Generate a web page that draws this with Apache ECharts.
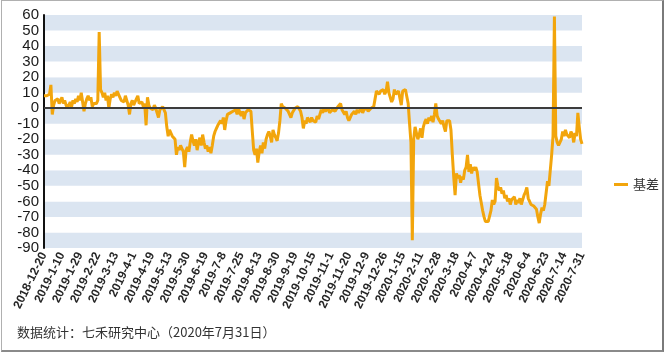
<!DOCTYPE html>
<html>
<head>
<meta charset="utf-8">
<title>基差</title>
<script src="https://cdn.jsdelivr.net/npm/echarts@6/dist/echarts.min.js"></script>
<style>
  html, body { margin: 0; padding: 0; background: #fff; }
  #box {
    position: absolute; left: 1px; top: 0; width: 660px; height: 349px;
    border: 1px solid #b0b0b0; border-right: 2px solid #7a7a7a; border-bottom: 2px solid #8a8a8a;
  }
  #chart { position: absolute; left: 0; top: 0; width: 666px; height: 354px; }
</style>
</head>
<body>
<div id="box"></div>
<div id="chart"></div>
<script>
// trading days 2018-12-20 .. 2020-7-31, weekdays minus exchange holidays
var startDay = '2018-12-20';
var endDay = '2020-07-31';
var holidays = [
  '2018-12-31', '2019-01-01', '2019-02-04', '2019-02-05', '2019-02-06', '2019-02-07', '2019-02-08',
  '2019-04-05', '2019-05-01', '2019-05-02', '2019-05-03', '2019-06-07', '2019-09-13',
  '2019-10-01', '2019-10-02', '2019-10-03', '2019-10-04', '2019-10-07',
  '2020-01-01', '2020-01-24', '2020-01-27', '2020-01-28', '2020-01-29', '2020-01-30', '2020-01-31',
  '2020-04-06', '2020-05-01', '2020-05-04', '2020-05-05', '2020-06-25', '2020-06-26'
];

// 基差
var basis = [
  8, 7, 8, 7, 9, 15, -4, 2, 5, 4,
  6, 3, 5, 7, 3, 5, 2, 0, 2, 4,
  1, 5, 3, 6, 4, 8, 5, 10, 4, -2,
  3, 6, 8, 5, 7, 1, 3, 4, 3, 5,
  49, 12, 10, 7, 10, 5, 8, 0, 6, 9,
  7, 10, 8, 11, 12, 7, 5, 6, 4, 8,
  5, 2, -4, 3, 5, 2, 4, 6, 8, 3,
  2, 4, 1, 3, -11, 7, 2, 0, 1, -1,
  2, 0, 1, -6, -1, 0, 1, 0, -3, -12,
  -18, -14, -16, -18, -17, -20, -30, -25, -27, -24,
  -26, -28, -38, -27, -25, -28, -22, -17, -21, -24,
  -20, -27, -22, -19, -24, -17, -22, -26, -24, -28,
  -25, -29, -24, -18, -15, -13, -11, -12, -8, -10,
  -6, -14, -8, -4, -5, -3, -4, -2, -3, -1,
  -4, 0, -3, -5, -2, -7, -3, -2, -1, 0,
  -2, -15, -27, -30, -26, -35, -28, -24, -29, -22,
  -26, -20, -17, -15, -18, -22, -14, -17, -19, -21,
  -16, -8, 3, 1, 2, 0, 1, -2, -1, -6,
  -3, -2, 0, -1, 1, 2, -2, -6, -13, -8,
  -10, -6, -7, -9, -6, -8, -7, -9, -5, -7,
  -6, -1, -3, 0, -2, -1, 0, -3, -4, -1,
  0, -2, -3, 1, 0, 3, -1, -2, -4, -2,
  -6, -8, -7, -4, -3, -2, -4, -1, -3, -2,
  0, -3, -1, -2, 0, -2, -1, 0, -1, 1,
  6, 11, 12, 9, 11, 10, 12, 9, 11, 17,
  10, 7, 4, 6, 12, 9, 10, 11, 11, 2,
  11, 12, 12, 11, 3, -10, -22, -85, -20, -12,
  -11, -20, -17, -13, -19, -12, -9, -7, -10, -6,
  -8, -5, -9, -4, 3, -5, -7, -6, -10, -8,
  -12, -15, -8, -9, -8, -14, -30, -44, -56, -42,
  -45, -43, -48, -44, -46, -40, -38, -30, -41, -36,
  -42, -38, -40, -38, -41, -42, -56, -57, -66, -70,
  -73, -74, -73, -74, -66, -59, -62, -60, -45, -50,
  -53, -51, -55, -53, -58, -56, -60, -58, -62, -59,
  -60, -57, -62, -59, -61, -58, -62, -59, -56, -54,
  -51, -58, -60, -62, -61, -63, -62, -65, -70, -74,
  -68, -64, -66, -62, -63, -47, -50, -51, -30, -18,
  59, -18, -22, -24, -25, -20, -15, -18, -14, -17,
  -16, -19, -15, -17, -22, -16, -18, -3, -12, -20,
  -23
];

var yMin = -90, yMax = 60, yStep = 10;

var days = [];
var d = new Date(startDay + 'T00:00:00Z');
var last = new Date(endDay + 'T00:00:00Z');
while (d <= last) {
  var iso = d.toISOString().slice(0, 10);
  var wd = d.getUTCDay();
  if (wd !== 0 && wd !== 6 && holidays.indexOf(iso) < 0) {
    days.push(d.getUTCFullYear() + '-' + (d.getUTCMonth() + 1) + '-' + d.getUTCDate());
  }
  d.setUTCDate(d.getUTCDate() + 1);
}

var chart = echarts.init(document.getElementById('chart'));
var option = {
  animation: false,
  textStyle: { fontFamily: 'Liberation Sans, Arial, Noto Sans CJK SC, sans-serif' },
  grid: { left: 44, right: 84, top: 15, bottom: 106, containLabel: false },
  legend: {
    data: ['基差'],
    orient: 'vertical',
    left: 609,
    top: 173,
    icon: 'rect',
    itemWidth: 14,
    itemHeight: 3,
    itemGap: 8,
    textStyle: { fontSize: 13, color: '#333', fontFamily: 'Noto Sans CJK SC' }
  },
  xAxis: {
    type: 'category',
    data: days,
    boundaryGap: false,
    axisLine: { show: false, onZero: false },
    axisTick: { show: false },
    axisLabel: {
      interval: 12,
      rotate: 64,
      margin: 5,
      fontSize: 12,
      fontWeight: 'bold',
      color: '#262626'
    },
    splitLine: { show: false }
  },
  yAxis: {
    type: 'value',
    min: yMin,
    max: yMax,
    interval: yStep,
    axisLine: { show: true, lineStyle: { color: '#111', width: 2 } },
    axisTick: { show: false },
    axisLabel: { fontSize: 15, color: '#1a1a1a', margin: 5 },
    splitLine: { show: false },
    splitArea: { show: true, areaStyle: { color: ['#dbe5f1', '#ffffff'] } }
  },
  series: [{
    name: '基差',
    type: 'line',
    data: basis,
    symbol: 'none',
    lineStyle: { color: '#f2a50c', width: 3 },
    itemStyle: { color: '#f2a50c' },
    markLine: {
      silent: true,
      symbol: 'none',
      label: { show: false },
      lineStyle: { color: '#3c3c3c', width: 2, type: 'solid' },
      data: [{ yAxis: 0 }]
    },
    z: 3
  }],
  graphic: [{
    type: 'text',
    left: 17,
    top: 326,
    style: {
      text: '数据统计：七禾研究中心（2020年7月31日）',
      fontSize: 13,
      fill: '#333',
      fontFamily: 'Noto Sans CJK SC'
    }
  }]
};
chart.setOption(option);
</script>
</body>
</html>
